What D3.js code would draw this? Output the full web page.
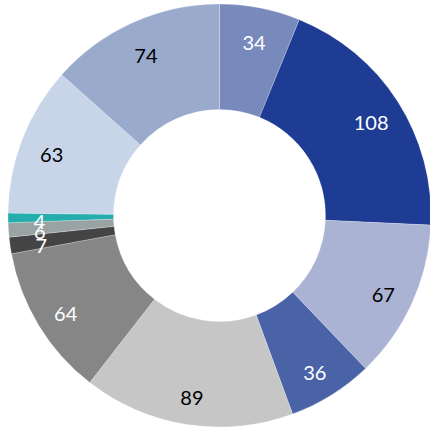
<!DOCTYPE html>
<html>
<head>
<meta charset="utf-8">
<script src="https://cdn.jsdelivr.net/npm/d3@7"></script>
<style>
html,body{margin:0;padding:0;background:#fff;}
svg{display:block;}
</style>
</head>
<body>
<svg id="chart" width="430" height="429"></svg>
<script>
const categories = ["A","B","C","D","E","F","G","H","I","J","K"];
const values = [34, 108, 67, 36, 89, 64, 7, 6, 4, 63, 74];
const colors = ["#7889BC","#1F3C94","#AAB3D4","#4A63A6","#C6C6C6","#868686","#444444","#99A3A3","#25ADAD","#C8D5E8","#99AACC"];
const labelColors = ["#fff","#fff","#000","#fff","#000","#fff","#fff","#fff","#fff","#000","#000"];

const data = categories.map((c,i)=>({cat:c, value:values[i], color:colors[i], lc:labelColors[i]}));
const svg = d3.select("#chart");
const cx = 219.5, cy = 215.5, R = 211.5, r = 106;
const g = svg.append("g").attr("transform",`translate(${cx},${cy})`);
const pie = d3.pie().sort(null).value(d=>d.value).startAngle(0).endAngle(2*Math.PI);
const arc = d3.arc().innerRadius(r).outerRadius(R);
const labelArc = d3.arc().innerRadius(180).outerRadius(180);
const arcs = pie(data);
g.selectAll("path").data(arcs).enter().append("path")
  .attr("d",arc).attr("fill",d=>d.data.color)
  .attr("stroke","#fff").attr("stroke-width",0.4).attr("stroke-opacity",0.6);
const lg = svg.append("g").attr("transform",`translate(${cx},${cy+3.5})`);
lg.selectAll("text").data(arcs).enter().append("text")
  .attr("transform",d=>`translate(${labelArc.centroid(d)})`)
  .attr("text-anchor","middle").attr("dominant-baseline","central")
  .attr("font-family","Lato, 'Open Sans', sans-serif").attr("font-size",20)
  .attr("fill",d=>d.data.lc)
  .text(d=>d.data.value);
</script>
</body>
</html>
